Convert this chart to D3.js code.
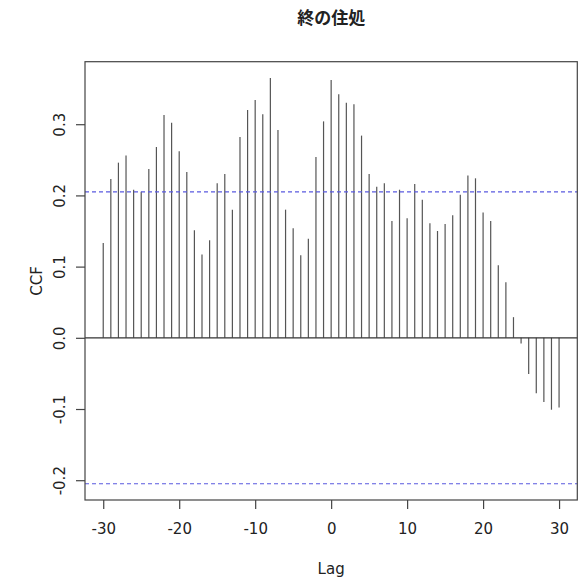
<!DOCTYPE html>
<html>
<head>
<meta charset="utf-8">
<script src="https://d3js.org/d3.v7.min.js"></script>
<style>
  body { margin: 0; background: #fff; }
  text { font-family: "DejaVu Sans", Verdana, sans-serif; fill: #222; }
</style>
</head>
<body>
<svg width="580" height="577" id="chart"></svg>
<script>
// lags -30..30 and the cross-correlation
var lags = d3.range(-30, 31);
var ccfValues = [
  0.133, 0.223, 0.246, 0.256, 0.208, 0.205, 0.237, 0.268, 0.313, 0.302,
  0.262, 0.233, 0.151, 0.117, 0.137, 0.217, 0.230, 0.180, 0.282, 0.320,
  0.334, 0.314, 0.365, 0.292, 0.180, 0.154, 0.116, 0.139, 0.254, 0.304,
  0.362, 0.342, 0.330, 0.328, 0.284, 0.230, 0.212, 0.217, 0.164, 0.208,
  0.168, 0.216, 0.194, 0.161, 0.150, 0.160, 0.172, 0.201, 0.228, 0.224,
  0.176, 0.164, 0.102, 0.078, 0.029, -0.008, -0.051, -0.078, -0.090, -0.101,
  -0.098
];
var ciLimit = 0.205;
var xTicks = [-30, -20, -10, 0, 10, 20, 30];
var yTicks = [-0.2, -0.1, 0.0, 0.1, 0.2, 0.3];
var title = "終の住処";

const svg = d3.select("#chart");
var plotL = 85, plotR = 577.3, plotT = 61.7, plotB = 500;

// R style 4% padding on both axes
var xr = d3.extent(lags), xpad = (xr[1] - xr[0]) * 0.04;
var x = d3.scaleLinear().domain([xr[0] - xpad, xr[1] + xpad]).range([plotL, plotR]);
var ylo = Math.min(d3.min(ccfValues), -ciLimit), yhi = Math.max(d3.max(ccfValues), ciLimit);
var ypad = (yhi - ylo) * 0.04;
var y = d3.scaleLinear().domain([ylo - ypad, yhi + ypad]).range([plotB, plotT]);

// R prints a plain hyphen for negatives
var fmtX = d => String(d);
var fmtY = d => d.toFixed(1);

// spikes
svg.append("g").selectAll("line")
  .data(lags)
  .enter()
  .append("line")
  .attr("x1", d => x(d)).attr("x2", d => x(d))
  .attr("y1", y(0))
  .attr("y2", (d, i) => y(ccfValues[i]))
  .attr("stroke", "#555")
  .attr("stroke-width", 1.2);

// zero line
svg.append("line")
  .attr("x1", plotL).attr("x2", plotR)
  .attr("y1", y(0)).attr("y2", y(0))
  .attr("stroke", "#333").attr("stroke-width", 1.2);

// confidence limits
[ciLimit, -ciLimit].forEach(function(v) {
  svg.append("line")
    .attr("x1", plotL).attr("x2", plotR)
    .attr("y1", y(v)).attr("y2", y(v))
    .attr("stroke", "#5a5ae0")
    .attr("stroke-width", 1.2)
    .attr("stroke-dasharray", "4,3");
});

// box
svg.append("rect")
  .attr("x", plotL).attr("y", plotT)
  .attr("width", plotR - plotL).attr("height", plotB - plotT)
  .attr("fill", "none").attr("stroke", "#444").attr("stroke-width", 1.2);

// x axis
var xAxis = svg.append("g")
  .attr("transform", "translate(0," + plotB + ")")
  .call(d3.axisBottom(x).tickValues(xTicks).tickSize(9).tickPadding(14).tickFormat(fmtX));
xAxis.select(".domain").remove();
xAxis.selectAll("line").attr("stroke", "#444").attr("stroke-width", 1.2);
xAxis.selectAll("text").style("font-size", "15px").attr("fill", "#222")
  .style("font-family", "DejaVu Sans, sans-serif");

// y axis with rotated labels
var yAxis = svg.append("g")
  .attr("transform", "translate(" + plotL + ",0)")
  .call(d3.axisLeft(y).tickValues(yTicks).tickSize(9).tickFormat(fmtY));
yAxis.select(".domain").remove();
yAxis.selectAll("line").attr("stroke", "#444").attr("stroke-width", 1.2);
yAxis.selectAll("text")
  .attr("x", null)
  .attr("text-anchor", "middle")
  .attr("transform", "translate(-25,0) rotate(-90)")
  .attr("dy", "0.35em")
  .style("font-size", "15px")
  .style("font-family", "DejaVu Sans, sans-serif")
  .attr("fill", "#222");

// titles
svg.append("text")
  .text(title)
  .attr("x", (plotL + plotR) / 2).attr("y", 24)
  .attr("text-anchor", "middle")
  .style("font-family", "'Noto Sans CJK JP', sans-serif")
  .style("font-weight", "bold")
  .style("font-size", "17px")
  .attr("fill", "#111");

svg.append("text")
  .text("Lag")
  .attr("x", (plotL + plotR) / 2).attr("y", 574)
  .attr("text-anchor", "middle")
  .style("font-size", "15px");

svg.append("text")
  .text("CCF")
  .attr("transform", "translate(42," + ((plotT + plotB) / 2) + ") rotate(-90)")
  .attr("text-anchor", "middle")
  .style("font-size", "15px");
</script>
</body>
</html>
